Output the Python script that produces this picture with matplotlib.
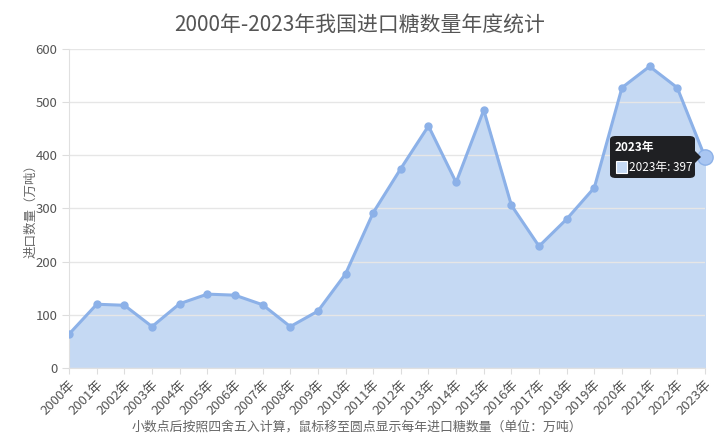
import matplotlib
matplotlib.use("Agg")
from matplotlib import pyplot as plt
from matplotlib.patches import FancyBboxPatch, Rectangle, Polygon

plt.rcParams['font.family'] = ['Noto Sans CJK SC', 'DejaVu Sans']

years = [str(y) + "年" for y in range(2000, 2024)]
imports = [64, 120, 118, 78, 121, 139, 137, 119, 78, 107, 177, 292,
           375, 455, 349, 485, 306, 229, 280, 339, 527, 567, 527, 397]

line_color = "#8cb1e8"
fill_color = "#c5d9f3"

W, H = 720, 444
fig = plt.figure(figsize=(7.2, 4.44), dpi=100)
ax = fig.add_axes([0.096, 0.171, 0.883, 0.719])

x = list(range(len(years)))
ax.fill_between(x, imports, 0, color=fill_color, zorder=1)
ax.plot(x, imports, color=line_color, lw=2.2, marker="o", ms=5,
        markerfacecolor=line_color, markeredgecolor=line_color, zorder=3)
# highlighted point (hovered)
ax.plot(x[-1], imports[-1], "o", ms=11, color="#a9c6f2",
        markeredgecolor=line_color, zorder=4, clip_on=False)

ax.set_xlim(0, len(years) - 1)
ax.set_ylim(0, 600)
ax.set_yticks(range(0, 601, 100))
ax.set_xticks(x)
ax.set_xticklabels(years, rotation=45, ha="right", rotation_mode="anchor",
                   fontsize=9.5, color="#555555")
ax.tick_params(axis="y", labelsize=9.5, colors="#555555", length=5, color="#dddddd")
ax.tick_params(axis="x", length=4, color="#dddddd")
ax.grid(axis="y", color="#e6e6e6", lw=1, zorder=0)
for side in ["top", "right"]:
    ax.spines[side].set_visible(False)
ax.spines["left"].set_color("#e0e0e0")
ax.spines["bottom"].set_color("#e0e0e0")

ax.set_ylabel("进口数量（万吨）", fontsize=9, color="#666666")
ax.yaxis.set_label_coords(-0.05, 0.5)
fig.suptitle("2000年-2023年我国进口糖数量年度统计", fontsize=15, color="#555555",
             y=0.97)
fig.text(0.495, 0.03, "小数点后按照四舍五入计算，鼠标移至圆点显示每年进口糖数量（单位：万吨）",
         ha="center", fontsize=9.3, color="#666666")

# tooltip (figure pixel coordinates, y from bottom)
def px(xp, yp):
    return xp / W, (H - yp) / H

bx0, by0 = px(610, 178)
bx1, by1 = px(695, 136)
tip = FancyBboxPatch((bx0, by0), bx1 - bx0, by1 - by0,
                     boxstyle="round,pad=0,rounding_size=0.008",
                     transform=fig.transFigure, fc="#1f2023", ec="none", zorder=10)
fig.add_artist(tip)
fig.add_artist(Polygon([px(695, 151), px(701, 157), px(695, 163)], closed=True,
                       transform=fig.transFigure, fc="#1f2023", ec="none", zorder=10))
fig.add_artist(Rectangle(px(616, 173), 11 / W, 12 / H, transform=fig.transFigure,
                         fc=fill_color, ec="white", lw=0.8, zorder=11))
tx, ty = px(615, 147)
fig.text(tx, ty, "2023年", fontsize=8.5, fontweight="bold", color="white",
         va="center", ha="left", zorder=11)
tx, ty = px(629, 167)
fig.text(tx, ty, "2023年: 397", fontsize=8.5, color="white",
         va="center", ha="left", zorder=11)

plt.savefig("out.png")
